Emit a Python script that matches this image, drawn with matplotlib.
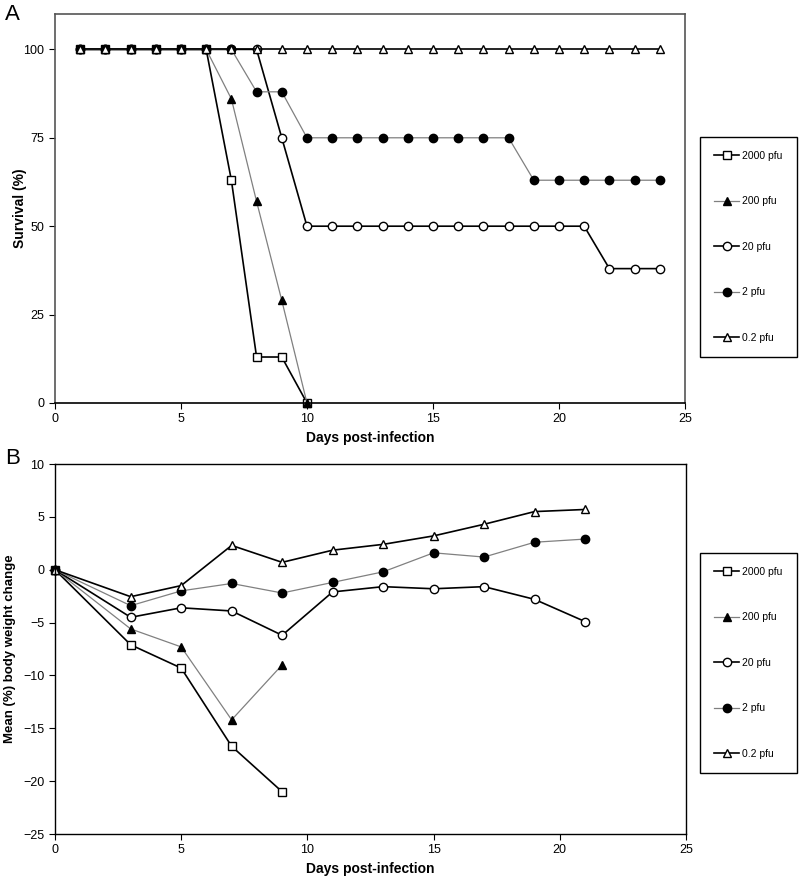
import matplotlib
matplotlib.use("Agg")
import matplotlib.pyplot as plt

plt.rcParams['font.family'] = ['Liberation Sans', 'DejaVu Sans']

labels = ['2000 pfu', '200 pfu', '20 pfu', '2 pfu', '0.2 pfu']

# Panel A: survival (%)
surv_days = list(range(1, 25))
surv_2000 = [100, 100, 100, 100, 100, 100, 63, 13, 13, 0]
surv_200 = [100, 100, 100, 100, 100, 100, 86, 57, 29, 0]
surv_20 = [100] * 8 + [75] + [50] * 12 + [38] * 3
surv_2 = [100] * 7 + [88, 88] + [75] * 9 + [63] * 6
surv_02 = [100] * 24

# Panel B: mean body weight change (%)
wt_days_short = [0, 3, 5, 7, 9]
wt_days = [0, 3, 5, 7, 9, 11, 13, 15, 17, 19, 21]
wt_2000 = [0, -7.1, -9.3, -16.7, -21.0]
wt_200 = [0, -5.6, -7.3, -14.2, -9.0]
wt_20 = [0, -4.5, -3.6, -3.9, -6.2, -2.1, -1.6, -1.8, -1.6, -2.8, -4.9]
wt_2 = [0, -3.4, -2.0, -1.3, -2.2, -1.2, -0.2, 1.6, 1.2, 2.6, 2.9]
wt_02 = [0, -2.55, -1.5, 2.3, 0.7, 1.85, 2.4, 3.2, 4.3, 5.5, 5.7]

styles = [
    dict(color='black', lw=1.2, marker='s', mfc='white', mec='black'),
    dict(color='#808080', lw=0.9, marker='^', mfc='black', mec='black'),
    dict(color='black', lw=1.2, marker='o', mfc='white', mec='black'),
    dict(color='#808080', lw=0.9, marker='o', mfc='black', mec='black'),
    dict(color='black', lw=1.2, marker='^', mfc='white', mec='black'),
]

fig = plt.figure(figsize=(7.99, 8.77), dpi=100)
axA = fig.add_axes([0.0688, 0.5405, 0.7885, 0.4435])
axB = fig.add_axes([0.0688, 0.049, 0.7897, 0.4219])

seriesA = [(surv_days[:len(surv_2000)], surv_2000), (surv_days[:len(surv_200)], surv_200),
           (surv_days, surv_20), (surv_days, surv_2), (surv_days, surv_02)]
seriesB = [(wt_days_short, wt_2000), (wt_days_short, wt_200),
           (wt_days, wt_20), (wt_days, wt_2), (wt_days, wt_02)]

# legend top-left corners in figure fractions
leg_pos = {axA: (700 / 799, 1 - 137 / 877), axB: (700 / 799, 1 - 553 / 877)}

for ax, series in [(axA, seriesA), (axB, seriesB)]:
    for (x, y), st, lab in zip(series, styles, labels):
        ax.plot(x, y, label=lab, markersize=6, mew=1.0, clip_on=False, **st)
    ax.set_xlim(0, 25)
    ax.set_xticks([0, 5, 10, 15, 20, 25])
    ax.tick_params(direction='out', length=4, width=0.8, labelsize=9, colors='black')
    ax.set_xlabel('Days post-infection', fontsize=10, fontweight='bold', labelpad=4)
    leg = ax.legend(loc='upper left', bbox_to_anchor=leg_pos[ax], bbox_transform=fig.transFigure,
                    fontsize=7.5, labelspacing=3.4, handlelength=2.4, borderpad=1.35,
                    handletextpad=0.3, borderaxespad=0, fancybox=False, framealpha=1)
    leg.get_frame().set_edgecolor('black')
    leg.get_frame().set_linewidth(1.0)

axA.set_ylim(0, 110)
axA.set_yticks([0, 25, 50, 75, 100])
axA.set_ylabel('Survival (%)', fontsize=10, fontweight='bold')
axA.yaxis.set_label_coords(-0.044, 0.5)
for s in axA.spines.values():
    s.set_color('#555555')
    s.set_linewidth(1.2)
axA.spines['bottom'].set_color('black')

axB.set_ylim(-25, 10)
axB.set_yticks([-25, -20, -15, -10, -5, 0, 5, 10])
axB.set_ylabel('Mean (%) body weight change', fontsize=9.5, fontweight='bold')
axB.yaxis.set_label_coords(-0.062, 0.5)
for s in axB.spines.values():
    s.set_color('black')
    s.set_linewidth(1.0)

fig.text(0.006, 0.995, 'A', fontsize=16, va='top', ha='left')
fig.text(0.006, 0.489, 'B', fontsize=16, va='top', ha='left')

fig.savefig('out.png', dpi=100)
